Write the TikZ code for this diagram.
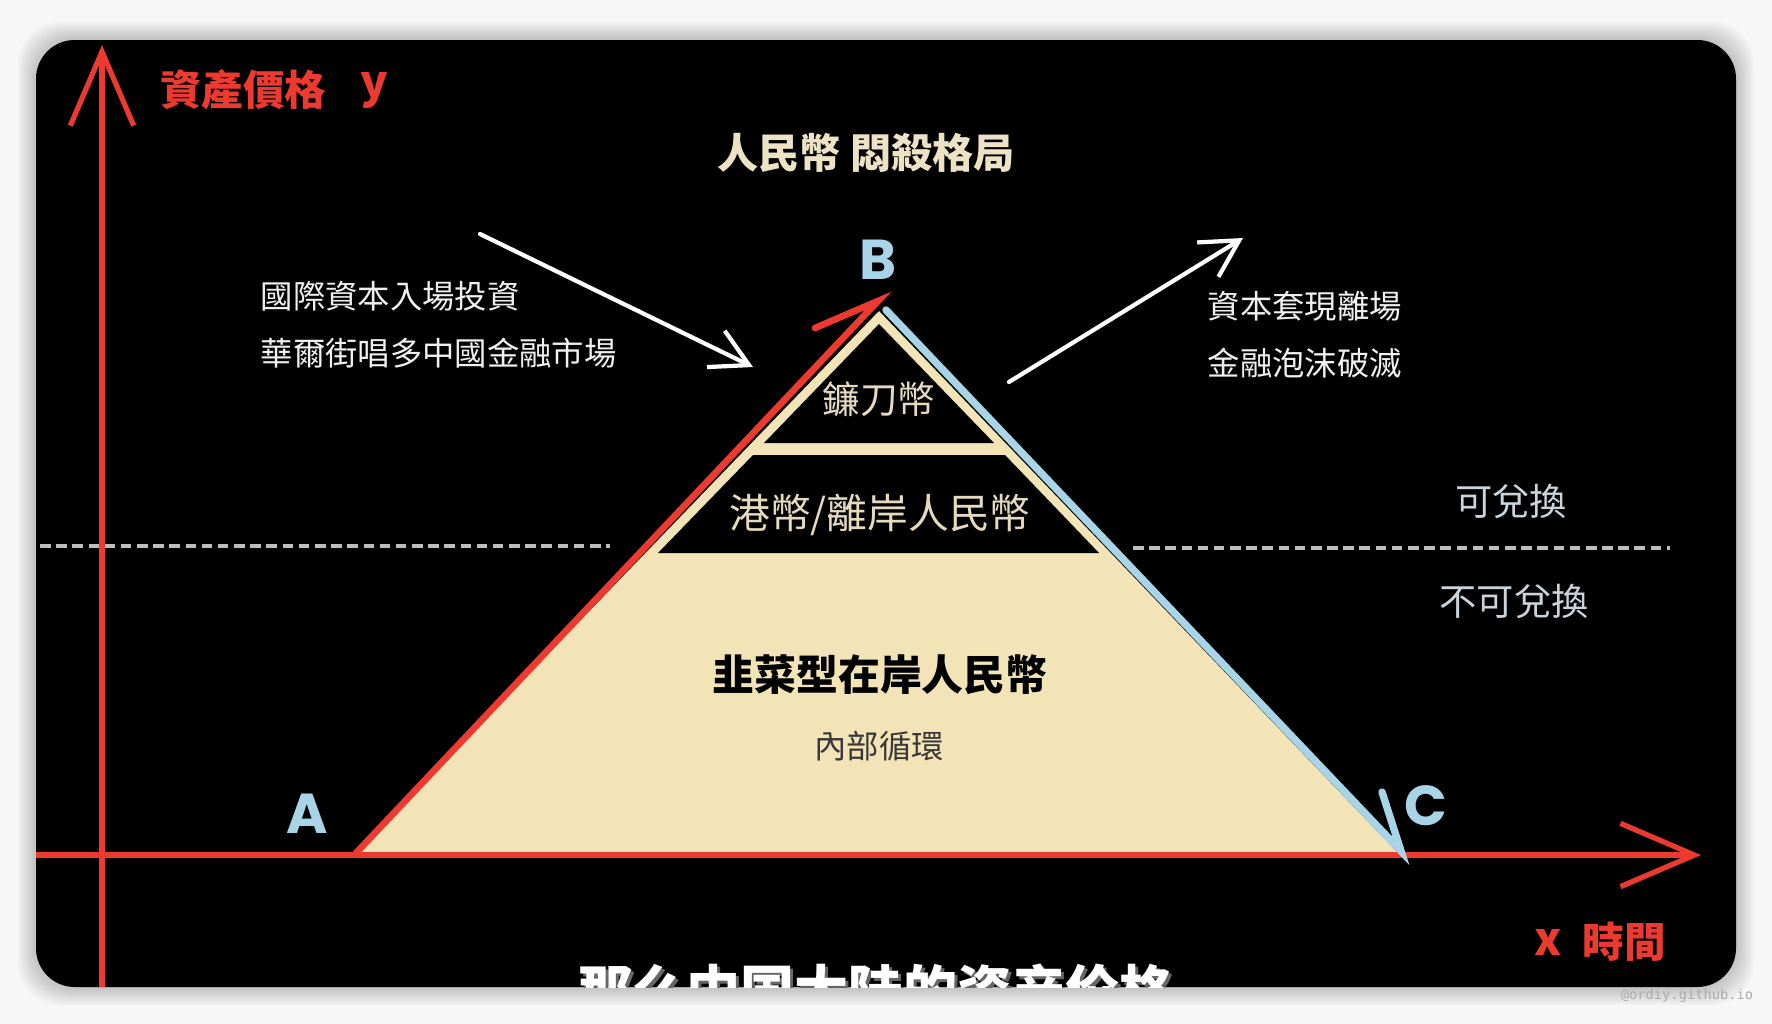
\documentclass[tikz,border=0pt]{standalone}
\usepackage{fontspec}
\usepackage{tikz}
\usetikzlibrary{arrows.meta}
\newfontfamily\tcfont{Noto Sans CJK TC}
\newfontfamily\scfont{Noto Sans CJK SC}
\newfontfamily\geofont{Poppins}
\newfontfamily\markfont{DejaVu Sans Mono}
\definecolor{axisred}{RGB}{236,58,48}
\definecolor{cream}{RGB}{242,228,182}
\definecolor{sky}{RGB}{168,212,232}
\definecolor{wheat}{RGB}{238,226,196}
\definecolor{dashgray}{RGB}{190,190,190}
\definecolor{pale}{RGB}{202,212,220}
\tikzset{
  axisline/.style={draw=axisred, line width=1.5pt, -{Straight Barb[length=21pt,width=18pt]}},
  note/.style={text=white!94!black, font=\tcfont\fontsize{9.2}{11}\selectfont, anchor=west, inner sep=0pt},
  corner/.style={text=sky, font=\geofont\bfseries\fontsize{16}{19}\selectfont},
  redlabel/.style={text=axisred, font=\tcfont\bfseries\fontsize{11.8}{14}\selectfont},
  swaplabel/.style={text=pale, font=\tcfont\fontsize{10.6}{13}\selectfont},
  layer/.style={text=wheat!92!gray, font=\tcfont\fontsize{#1}{14}\selectfont},
  flow/.style={draw=white, line width=1.2pt, line cap=round, -{Straight Barb[length=10.5pt,width=11.5pt]}},
  divider/.style={draw=dashgray, line width=0.9pt, dash pattern=on 3pt off 1.6pt},
}
\begin{document}
\begin{tikzpicture}[x=0.01cm, y=-0.01cm]
     \useasboundingbox (0,0) rectangle (1772,1024);
     \fill[white!97!black] (0,0) rectangle (1772,1024);
     \foreach \s in {2,4,...,18}
       \fill[black, opacity=0.025, rounded corners=12pt] (36-\s,40-\s) rectangle (1736+\s,987+\s);
     \fill[black, rounded corners=11pt] (36,40) rectangle (1736,987);

     \coordinate (apex) at (879,311);
     \coordinate (baseL) at (356,853);
     \coordinate (baseR) at (1398,853);
     \fill[cream] (apex) -- (baseL) -- (baseR) -- cycle;
     \fill[black] (879,324) -- (764,443) -- (994,443) -- cycle;
     \fill[black] (753,455) -- (1005,455) -- (1099,553) -- (658,553) -- cycle;

     \draw[divider] (40,546) -- (610,546);
     \draw[divider] (1133,548) -- (1670,548);

     \begin{scope}
       \clip[rounded corners=11pt] (36,40) rectangle (1736,987);
       \draw[axisline] (102,990) -- (102,45);
       \draw[axisline] (30,855) -- (1701,855);
       \node[text=gray!80!black, font=\scfont\bfseries\fontsize{15.4}{18}\selectfont] (tailshadow) at (879,993) {那么中国大陆的资产价格};
       \node[text=white, font=\scfont\bfseries\fontsize{15.4}{18}\selectfont] (tail) at (876,990) {那么中国大陆的资产价格};
     \end{scope}

     \coordinate (redtop) at (878,301);
     \coordinate (redwing) at (815,328);
     \draw[axisred, line width=1.9pt, line cap=round] (baseL) -- (redtop) -- (redwing);
     \coordinate (bluetop) at (886,310);
     \coordinate (bluebottom) at (1401,851);
     \coordinate (bluewing) at (1382,792);
     \draw[sky, line width=2.1pt, line cap=round] (bluetop) -- (bluebottom) -- (bluewing);

     \node[redlabel] (ylabel) at (243,90) {資產價格};
     \node[text=axisred, font=\tcfont\bfseries\fontsize{13}{15}\selectfont] (ymark) at (374,90) {y};
     \node[text=axisred, font=\tcfont\bfseries\fontsize{13}{15}\selectfont] (xmark) at (1548,942) {x};
     \node[redlabel] (xlabel) at (1624,942) {時間};

     \node[text=wheat, font=\tcfont\bfseries\fontsize{11.7}{14}\selectfont] (title) at (866,153) {人民幣 悶殺格局};

     \node[corner] (ptB) at (878,260) {B};
     \node[corner] (ptA) at (307,814) {A};
     \node[corner] (ptC) at (1426,806) {C};

     \node[note] (inA) at (260,296) {國際資本入場投資};
     \node[note] (inB) at (260,353) {華爾街唱多中國金融市場};
     \node[note] (outA) at (1207,306) {資本套現離場};
     \node[note] (outB) at (1207,363) {金融泡沫破滅};

     \coordinate (inStart) at (480,234);
     \coordinate (inEnd) at (753,367);
     \draw[flow] (inStart) -- (inEnd);
     \coordinate (outStart) at (1009,382);
     \coordinate (outEnd) at (1243,238);
     \draw[flow] (outStart) -- (outEnd);

     \node[swaplabel] (convert) at (1511,501) {可兌換};
     \node[swaplabel] (noconvert) at (1514,601) {不可兌換};

     \node[layer=10.7] (sickle) at (879,399) {鐮刀幣};
     \node[layer=11.6] (offshore) at (880,515) {港幣/離岸人民幣};
     \node[text=black, font=\tcfont\bfseries\fontsize{11.9}{14}\selectfont] (onshore) at (880,675) {韭菜型在岸人民幣};
     \node[text=black!78, font=\tcfont\fontsize{9.2}{11}\selectfont] (loop) at (879,746) {內部循環};

     \node[text=gray!65, font=\markfont\fontsize{3.9}{5}\selectfont] (mark) at (1687,996) {@ordiy.github.io};
   \end{tikzpicture}
\end{document}
